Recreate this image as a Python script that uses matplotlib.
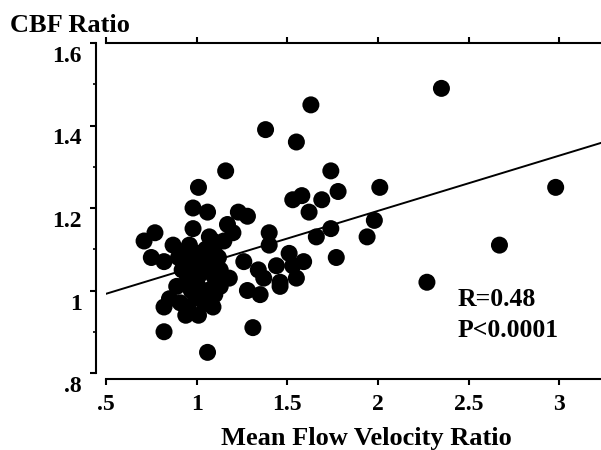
import numpy as np
import matplotlib
matplotlib.use("Agg")
import matplotlib.pyplot as plt
from matplotlib.transforms import ScaledTranslation

# Mean flow velocity ratio (x) vs CBF ratio (y)
velocity_ratio = [
    2.35, 1.63, 1.38, 1.55, 1.16, 1.01, 1.74, 1.78, 2.01, 2.98,
    1.53, 1.58, 1.69, 1.62, 1.98, 1.74, 1.66, 1.94, 1.77, 2.67,
    2.27, 1.59, 1.51, 1.28, 1.23, 1.40, 1.40, 1.26, 1.34, 1.44,
    1.55, 1.46, 1.37, 1.28, 1.35, 1.46, 1.31, 0.98, 1.06, 0.98,
    1.17, 1.20, 0.71, 0.77, 0.87, 1.09, 0.75, 0.82, 0.95, 1.03,
    1.13, 1.18, 0.92, 1.02, 0.89, 0.85, 1.00, 1.06, 1.10, 0.82,
    0.95, 1.02, 0.94, 1.01, 1.09, 0.82, 1.06, 0.98, 0.95, 1.07,
    0.91, 1.13, 1.53, 1.05, 0.99, 0.90, 1.10, 0.96,
    1.00, 1.05, 1.08, 0.97, 1.04, 1.12, 0.93, 1.10, 1.15, 1.07,
]
cbf_ratio = [
    1.49, 1.45, 1.39, 1.36, 1.29, 1.25, 1.29, 1.24, 1.25, 1.25,
    1.22, 1.23, 1.22, 1.19, 1.17, 1.15, 1.13, 1.13, 1.08, 1.11,
    1.02, 1.07, 1.09, 1.18, 1.19, 1.14, 1.11, 1.07, 1.05, 1.06,
    1.03, 1.02, 1.03, 1.00, 0.99, 1.01, 0.91, 1.20, 1.19, 1.15,
    1.16, 1.14, 1.12, 1.14, 1.11, 1.12, 1.08, 1.07, 1.07, 1.09,
    1.05, 1.03, 1.05, 1.04, 1.01, 0.98, 1.02, 1.00, 0.99, 0.96,
    0.96, 0.98, 0.94, 0.94, 0.96, 0.90, 0.85, 1.06, 1.03, 0.97,
    0.97, 1.01, 1.06, 1.06, 0.99, 1.08, 1.09, 1.11,
    1.09, 1.10, 1.07, 1.00, 0.97, 1.08, 1.09, 1.03, 1.12, 1.13,
]

# regression line as drawn
fit_slope = 0.134
fit_intercept = 0.925

x_ticks = [0.5, 1, 1.5, 2, 2.5, 3]
x_tick_labels = [".5", "1", "1.5", "2", "2.5", "3"]
y_ticks = [0.8, 1.0, 1.2, 1.4, 1.6]
y_tick_labels = [".8", "1", "1.2", "1.4", "1.6"]

serif = ["Liberation Serif", "DejaVu Serif"]
plt.rcParams["font.family"] = serif
plt.rcParams["font.weight"] = "bold"

fig = plt.figure(figsize=(6.01, 4.5), dpi=100)
ax = fig.add_axes([106 / 601, 77 / 450, 495 / 601, 330 / 450])

ax.scatter(velocity_ratio, cbf_ratio, s=150, c="black", edgecolors="none",
           clip_on=False, zorder=3)

xmin, xmax = 0.5, 3.23
line_x = np.array([xmin, xmax])
ax.plot(line_x, fit_intercept + fit_slope * line_x, color="black", lw=1.4,
        zorder=2)

ax.set_xlim(xmin, xmax)
ax.set_ylim(0.8, 1.6)

ax.spines["right"].set_visible(False)
for s in ["left", "bottom", "top"]:
    ax.spines[s].set_linewidth(1.5)
ax.spines["left"].set_position(("outward", 7.2))
ax.spines["bottom"].set_position(("outward", 4.3))

ax.set_xticks(x_ticks)
ax.set_xticklabels(x_tick_labels, fontsize=17, fontweight="bold")
ax.set_yticks(y_ticks)
ax.set_yticklabels(y_tick_labels, fontsize=17, fontweight="bold")
ax.set_yticks([0.9, 1.1, 1.3, 1.5], minor=True)

ax.tick_params(axis="x", direction="out", length=4, width=1.5, pad=7,
               top=True, labeltop=False)
ax.tick_params(axis="y", which="major", direction="out", length=4.3,
               width=1.5, pad=5.8)
ax.tick_params(axis="y", which="minor", direction="out", length=2.5,
               width=1.2)

# the original prints y labels a bit below their ticks
for lab in ax.get_yticklabels():
    lab.set_transform(lab.get_transform() +
                      ScaledTranslation(0, -0.11, fig.dpi_scale_trans))

fig.text(10 / 601, (450 - 32) / 450, "CBF Ratio", fontsize=19,
         fontweight="bold", ha="left", va="baseline")
fig.text(366 / 601, (450 - 445) / 450, "Mean Flow Velocity Ratio",
         fontsize=19, fontweight="bold", ha="center", va="baseline")

ax.text(2.437, 0.962, "R=0.48", fontsize=18.5, fontweight="bold",
        ha="left", va="baseline")
ax.text(2.437, 0.887, "P<0.0001", fontsize=18.5, fontweight="bold",
        ha="left", va="baseline")

fig.savefig("out.png", dpi=100)
